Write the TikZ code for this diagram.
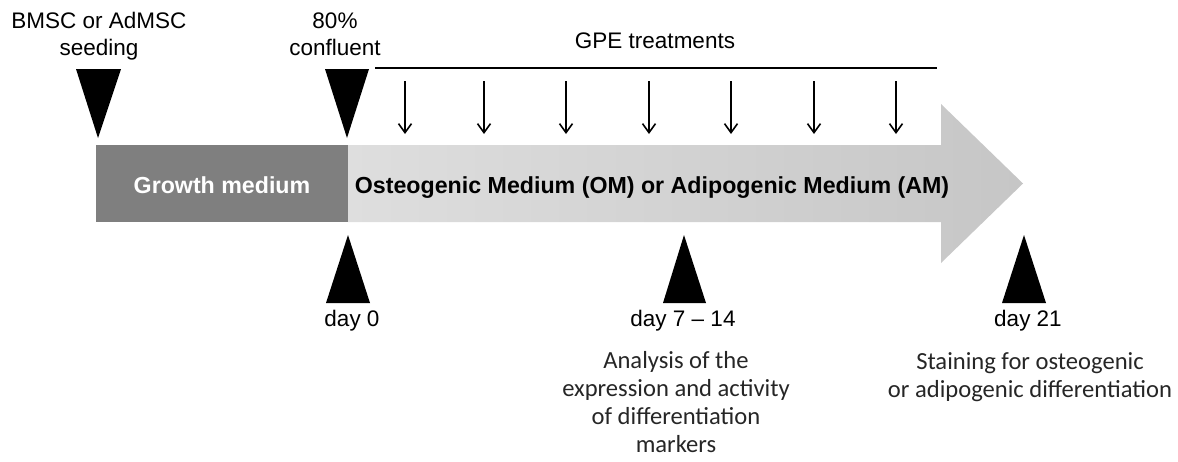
\documentclass[tikz,border=0pt]{standalone}
\usepackage{fontspec}
\setmainfont{Liberation Sans}
\newfontfamily\parafont{Carlito}
\usetikzlibrary{arrows.meta}
\definecolor{growthgray}{RGB}{127,127,127}
\definecolor{arrowleft}{RGB}{222,222,222}
\definecolor{arrowright}{RGB}{198,198,198}
\tikzset{
  lbl/.style={font=\fontsize{22.5}{27}\selectfont, inner sep=0pt, align=center, anchor=base},
  para/.style={font=\parafont\fontsize{24.6}{27.8}\selectfont, inner sep=0pt, align=center, anchor=base, text=black!85},
  boldlbl/.style={font=\bfseries\fontsize{23.2}{27}\selectfont, inner sep=0pt, anchor=base},
  marker/.style={fill=black, draw=none},
  treat/.style={-{Straight Barb[length=9pt,width=13pt,line width=1.6pt]}, line width=1.6pt, black}
}
\begin{document}
\begin{tikzpicture}[x=1pt,y=-1pt]
\useasboundingbox (0,0) rectangle (1178,461);

% big arrow (OM/AM)
\shade[left color=arrowleft, right color=arrowright]
  (348,145) -- (941,145) -- (941,104) -- (1023,183.5) -- (941,263) -- (941,222) -- (348,222) -- cycle;
% growth medium box
\fill[growthgray] (96,145) rectangle (348,222);

\node[boldlbl, text=white] (growth) at (222,193) {Growth medium};
\node[boldlbl] (om) at (652,193) {Osteogenic Medium (OM) or Adipogenic Medium (AM)};

% top labels (base anchor = last line baseline)
\node[lbl] (seed) at (99,55) {BMSC or AdMSC\\seeding};
\node[lbl] (conf) at (335,55) {80\%\\confluent};
\node[lbl] (gpe) at (655,48) {GPE treatments};

% top markers
\fill[marker] (76,69) -- (121,69) -- (98,138) -- cycle;
\fill[marker] (325,69) -- (369,69) -- (347,138) -- cycle;

% GPE line and arrows
\coordinate (gl) at (375,68);
\coordinate (gr) at (937,68);
\draw[line width=1.5pt] (gl) -- (gr);
\foreach \x [count=\i] in {405,484,566,649,731,814,896}{
  \coordinate (t\i a) at (\x,81);
  \coordinate (t\i b) at (\x,134);
  \draw[treat] (t\i a) -- (t\i b);
}

% bottom markers
\fill[marker] (348,235) -- (370,303) -- (326,303) -- cycle;
\fill[marker] (684,235) -- (706,303) -- (663,303) -- cycle;
\fill[marker] (1024,235) -- (1046,303) -- (1002,303) -- cycle;

\node[lbl] (d0) at (352,326) {day 0};
\node[lbl] (d714) at (683,326) {day 7 -- 14};
\node[lbl] (d21) at (1028,326) {day 21};

\node[para] (ana) at (676,452) {Analysis of the\\expression and activity\\of differentiation\\markers};
\node[para] (stain) at (1030,397) {Staining for osteogenic\\or adipogenic differentiation};
\end{tikzpicture}
\end{document}
